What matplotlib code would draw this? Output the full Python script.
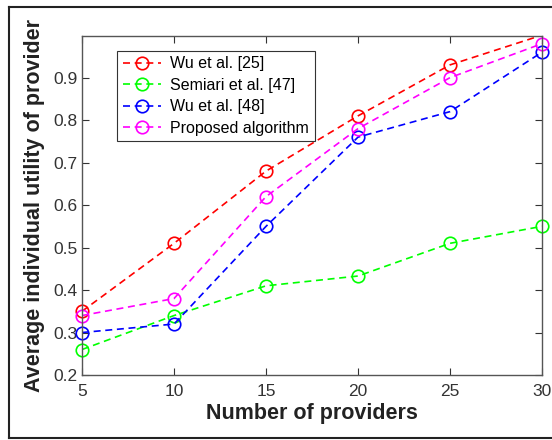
import numpy as np
import matplotlib
matplotlib.use('Agg')
import matplotlib.pyplot as plt
from matplotlib.lines import Line2D

plt.rcParams['font.family'] = ['Liberation Sans', 'DejaVu Sans']

providers = [5, 10, 15, 20, 25, 30]
wu25 = [0.35, 0.51, 0.68, 0.81, 0.93, 1.0]
semiari47 = [0.26, 0.34, 0.41, 0.433, 0.51, 0.55]
wu48 = [0.30, 0.32, 0.55, 0.76, 0.82, 0.96]
proposed = [0.34, 0.38, 0.62, 0.78, 0.90, 0.98]
names = ['Wu et al. [25]', 'Semiari et al. [47]', 'Wu et al. [48]', 'Proposed algorithm']
colors = ['#ff0000', '#00ff00', '#0000ff', '#ff00ff']

ytop = 0.998
dash = (4.2, 2.8)

fig = plt.figure(figsize=(5.52, 4.4), dpi=100)
ax = fig.add_axes([0.1486, 0.1477, 0.8334, 0.7705])

handles = []
for ys, lab, c in zip([wu25, semiari47, wu48, proposed], names, colors):
    ax.plot(providers, ys, '--', color=c, linewidth=1.2, dashes=dash)
    # markers drawn unclipped like matlab, only those inside the limits
    xs = [x for x, y in zip(providers, ys) if y <= ytop]
    yy = [y for y in ys if y <= ytop]
    ax.plot(xs, yy, 'o', color=c, markersize=9, markerfacecolor='none',
            markeredgewidth=1.2, clip_on=False)
    handles.append(Line2D([], [], linestyle='--', dashes=dash, marker='o', color=c,
                          linewidth=1.2, markersize=9, markerfacecolor='none',
                          markeredgewidth=1.2, label=lab))

ax.set_xlim(5, 30)
ax.set_ylim(0.2, ytop)
ax.set_xticks([5, 10, 15, 20, 25, 30])
ax.set_yticks([0.2, 0.3, 0.4, 0.5, 0.6, 0.7, 0.8, 0.9])
ax.set_yticklabels(['0.2', '0.3', '0.4', '0.5', '0.6', '0.7', '0.8', '0.9'])
ax.tick_params(direction='in', top=True, right=True, labelsize=12.5,
               colors='#333333', length=5)
ax.tick_params(axis='x', pad=6.5)
ax.tick_params(axis='y', pad=3.5)
for s in ax.spines.values():
    s.set_color('#555555')
    s.set_linewidth(1.0)

ax.set_xlabel('Number of providers', fontsize=15.5, fontweight='bold', color='#222222', labelpad=3)
ax.set_ylabel('Average individual utility of provider', fontsize=15.5, fontweight='bold',
              color='#222222', labelpad=6)

leg = ax.legend(handles=handles, loc='upper left', bbox_to_anchor=(0.076, 0.956), fontsize=11.5,
                fancybox=False, framealpha=1, edgecolor='#333333',
                handlelength=2.4, borderpad=0.35, labelspacing=0.4, handletextpad=0.6,
                borderaxespad=0)
leg.get_frame().set_linewidth(0.8)

# outer frame around the picture (no right side)
fig.add_artist(Line2D([0.016, 0.016], [0.005, 0.984], transform=fig.transFigure,
                      color='#222222', linewidth=1.5))
fig.add_artist(Line2D([0.016, 1.0], [0.984, 0.984], transform=fig.transFigure,
                      color='#222222', linewidth=1.5))
fig.add_artist(Line2D([0.016, 1.0], [0.005, 0.005], transform=fig.transFigure,
                      color='#222222', linewidth=1.5))

fig.savefig('out.png', dpi=100)
